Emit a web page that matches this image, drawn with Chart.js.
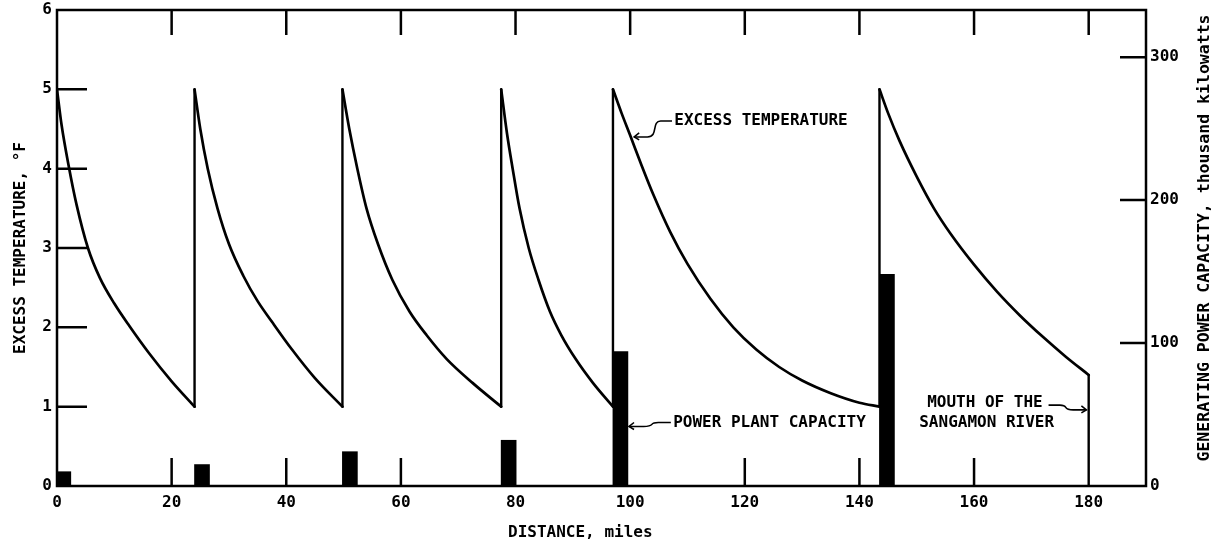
<!DOCTYPE html>
<html>
<head>
<meta charset="utf-8">
<script src="https://cdn.jsdelivr.net/npm/chart.js@4.4.1/dist/chart.umd.min.js"></script>
<style>
  html, body { margin: 0; padding: 0; background: #fff; }
  canvas { display: block; }
</style>
</head>
<body>
<canvas id="riverChart" width="1223" height="548"></canvas>
<script>
// Excess temperature along the river (distance in miles, deg F)
// a repeated mile value is a plant outfall (vertical jump)
var tempMiles = [
  0, 0.8, 2, 3.4, 5.4, 7.5, 10, 12.6, 16, 20, 24,
  24, 25, 26.3, 28, 30, 32.5, 35, 37.5, 41, 45, 49.8,
  49.8, 51, 52.4, 54, 56, 58.5, 61.5, 64.5, 68, 72.5, 77.5,
  77.5, 78.5, 79.5, 80.7, 82.3, 84, 86, 88, 90.5, 93.5, 97,
  97, 98.5, 100, 102, 104, 107, 110, 114, 118, 122, 126, 130, 135, 140, 143.5,
  143.5, 145, 147, 150, 153, 156, 160, 164, 168, 172, 176, 180
];
var tempValues = [
  5, 4.55, 4.05, 3.55, 3.0, 2.62, 2.3, 2.02, 1.68, 1.32, 1.0,
  5, 4.5, 4.0, 3.5, 3.05, 2.65, 2.33, 2.07, 1.72, 1.36, 1.0,
  5, 4.5, 4.0, 3.5, 3.05, 2.6, 2.2, 1.9, 1.6, 1.3, 1.0,
  5, 4.45, 4.0, 3.5, 3.0, 2.6, 2.2, 1.9, 1.6, 1.3, 1.0,
  5, 4.7, 4.42, 4.04, 3.68, 3.2, 2.8, 2.36, 2.0, 1.72, 1.5, 1.33, 1.17, 1.05, 1.0,
  5, 4.7, 4.35, 3.9, 3.5, 3.17, 2.79, 2.45, 2.15, 1.88, 1.63, 1.4
];

// Mouth of the Sangamon River marker
var mouthMiles = [180, 180];
var mouthValues = [1.4, 0];

// Power plants: location (miles) and capacity (thousand kilowatts)
var plantMiles = [1.1, 25.3, 51.1, 78.8, 98.3, 144.8];
var plantCapacity = [10, 15, 24, 32, 94, 148];

// Inside tick marks
var topTicks = [20, 40, 60, 80, 100, 120, 140, 160, 180];
var bottomTicks = [20, 40, 60, 120, 140, 160];
var tempTicks = [1, 2, 3, 4, 5];
var capacityTicks = [100, 200, 300];

var FONT = '"DejaVu Sans Mono", "Liberation Mono", monospace';

// split the curve at the outfalls: smooth decays + straight jumps
var curvePoints = [], jumpPoints = [];
tempMiles.forEach(function(m, i) {
  if (i > 0 && m === tempMiles[i - 1]) {
    curvePoints.push({ x: m, y: null });
    jumpPoints.push({ x: m, y: tempValues[i - 1] }, { x: m, y: tempValues[i] }, { x: m, y: null });
  }
  curvePoints.push({ x: m, y: tempValues[i] });
});

function squiggle(ctx, x1, y1, x2, y2) {
  var dx = x2 - x1;
  ctx.beginPath();
  ctx.moveTo(x1, y1);
  ctx.lineTo(x1 + dx * 0.3, y1);
  ctx.bezierCurveTo(x1 + dx * 0.55, y1, x1 + dx * 0.35, y2, x1 + dx * 0.65, y2);
  ctx.lineTo(x2, y2);
  ctx.stroke();
  var s = dx > 0 ? -1 : 1;
  ctx.beginPath();
  ctx.moveTo(x2 + s * 5, y2 - 4);
  ctx.lineTo(x2, y2);
  ctx.lineTo(x2 + s * 5, y2 + 3);
  ctx.stroke();
}

function noLabelOverhang(s) {
  s.paddingTop = 0;
  s.paddingBottom = 0;
}

var framePlugin = {
  id: 'frame',
  afterDatasetsDraw: function(chart) {
    var ctx = chart.ctx, a = chart.chartArea;
    var x = chart.scales.x, y = chart.scales.y, y2 = chart.scales.y2;
    ctx.save();
    ctx.strokeStyle = '#000';
    ctx.lineWidth = 2.5;
    ctx.strokeRect(a.left, a.top, a.right - a.left, a.bottom - a.top);

    ctx.beginPath();
    topTicks.forEach(function(v) {
      var px = x.getPixelForValue(v);
      ctx.moveTo(px, a.top);
      ctx.lineTo(px, a.top + 25);
    });
    bottomTicks.forEach(function(v) {
      var px = x.getPixelForValue(v);
      ctx.moveTo(px, a.bottom);
      ctx.lineTo(px, a.bottom - 28);
    });
    tempTicks.forEach(function(v) {
      var py = y.getPixelForValue(v);
      ctx.moveTo(a.left, py);
      ctx.lineTo(a.left + 30, py);
    });
    capacityTicks.forEach(function(v) {
      var py = y2.getPixelForValue(v);
      ctx.moveTo(a.right, py);
      ctx.lineTo(a.right - 26, py);
    });
    ctx.stroke();

    ctx.fillStyle = '#000';
    ctx.textBaseline = 'middle';

    // axis titles drawn here (bottom one sits left of centre, right one reads upward)
    ctx.font = 'bold 16px ' + FONT;
    ctx.textAlign = 'center';
    ctx.fillText('DISTANCE, miles', x.getPixelForValue(91.3), a.bottom + 47);
    ctx.save();
    ctx.font = 'bold 16.5px ' + FONT;
    ctx.translate(a.right + 59, (a.top + a.bottom) / 2 - 10);
    ctx.rotate(-Math.PI / 2);
    ctx.fillText('GENERATING POWER CAPACITY, thousand kilowatts', 0, 0);
    ctx.restore();

    // call-outs
    ctx.lineWidth = 1.6;
    ctx.textAlign = 'left';
    ctx.fillText('EXCESS TEMPERATURE', x.getPixelForValue(107.7), y.getPixelForValue(4.6));
    squiggle(ctx, x.getPixelForValue(107.3), y.getPixelForValue(4.6),
             x.getPixelForValue(100.7), y.getPixelForValue(4.4));

    ctx.fillText('POWER PLANT CAPACITY', x.getPixelForValue(107.5), y.getPixelForValue(0.8));
    squiggle(ctx, x.getPixelForValue(107.1), y.getPixelForValue(0.8),
             x.getPixelForValue(99.8), y.getPixelForValue(0.75));

    ctx.textAlign = 'center';
    ctx.fillText('MOUTH OF THE', x.getPixelForValue(161.9), y.getPixelForValue(1.05));
    ctx.fillText('SANGAMON RIVER', x.getPixelForValue(162.2), y.getPixelForValue(0.79));
    squiggle(ctx, x.getPixelForValue(173), y.getPixelForValue(1.02),
             x.getPixelForValue(179.6), y.getPixelForValue(0.96));
    ctx.restore();
  }
};

document.addEventListener('DOMContentLoaded', function() {
  var ctx = document.getElementById('riverChart').getContext('2d');
  var tickFont = { family: FONT, size: 16, weight: 'bold' };
  var titleFont = { family: FONT, size: 16, weight: 'bold' };

  var riverChart = new Chart(ctx, {
    type: 'bar',
    data: {
      datasets: [{
        type: 'line',
        label: 'Excess temperature',
        data: curvePoints,
        borderColor: '#000',
        borderWidth: 2.7,
        borderCapStyle: 'round',
        borderJoinStyle: 'round',
        pointRadius: 0,
        cubicInterpolationMode: 'monotone',
        spanGaps: false,
        yAxisID: 'y'
      }, {
        type: 'line',
        label: 'Outfalls',
        data: jumpPoints,
        borderColor: '#000',
        borderWidth: 2.4,
        borderCapStyle: 'round',
        pointRadius: 0,
        tension: 0,
        spanGaps: false,
        yAxisID: 'y'
      }, {
        type: 'line',
        label: 'Mouth of the Sangamon River',
        data: mouthMiles.map(function(m, i) { return { x: m, y: mouthValues[i] }; }),
        borderColor: '#000',
        borderWidth: 2.4,
        borderCapStyle: 'round',
        pointRadius: 0,
        yAxisID: 'y'
      }, {
        type: 'bar',
        label: 'Power plant capacity',
        data: plantMiles.map(function(m, i) { return { x: m, y: plantCapacity[i] }; }),
        backgroundColor: '#000',
        borderWidth: 0,
        barThickness: 15,
        yAxisID: 'y2'
      }]
    },
    options: {
      responsive: false,
      animation: false,
      layout: { padding: { top: 10, left: 0, right: 0, bottom: 0 } },
      plugins: {
        legend: { display: false },
        tooltip: { enabled: false }
      },
      scales: {
        x: {
          type: 'linear',
          min: 0,
          max: 190,
          offset: false,
          grid: { display: false, drawTicks: false, offset: false },
          border: { display: false },
          ticks: { stepSize: 20, font: tickFont, color: '#000', padding: 7, maxRotation: 0 },
          afterBuildTicks: function(s) { s.ticks = s.ticks.filter(function(t) { return t.value % 20 === 0; }); },
          afterFit: function(s) { s.height = 62; }
        },
        y: {
          position: 'left',
          min: 0,
          max: 6,
          grid: { display: false, drawTicks: false },
          border: { display: false },
          ticks: { stepSize: 1, font: tickFont, color: '#000', padding: 5 },
          afterFit: function(s) { s.width = 57; noLabelOverhang(s); },
          title: { display: true, text: 'EXCESS TEMPERATURE, °F', font: titleFont, color: '#000', padding: { top: 11, bottom: 0 } }
        },
        y2: {
          position: 'right',
          min: 0,
          max: 333,
          grid: { display: false, drawTicks: false },
          border: { display: false },
          ticks: { stepSize: 100, font: tickFont, color: '#000', padding: 4 },
          afterBuildTicks: function(s) { s.ticks = s.ticks.filter(function(t) { return t.value % 100 === 0; }); },
          afterFit: function(s) { s.width = 77; noLabelOverhang(s); }
        }
      }
    },
    plugins: [framePlugin]
  });
});
</script>
</body>
</html>
